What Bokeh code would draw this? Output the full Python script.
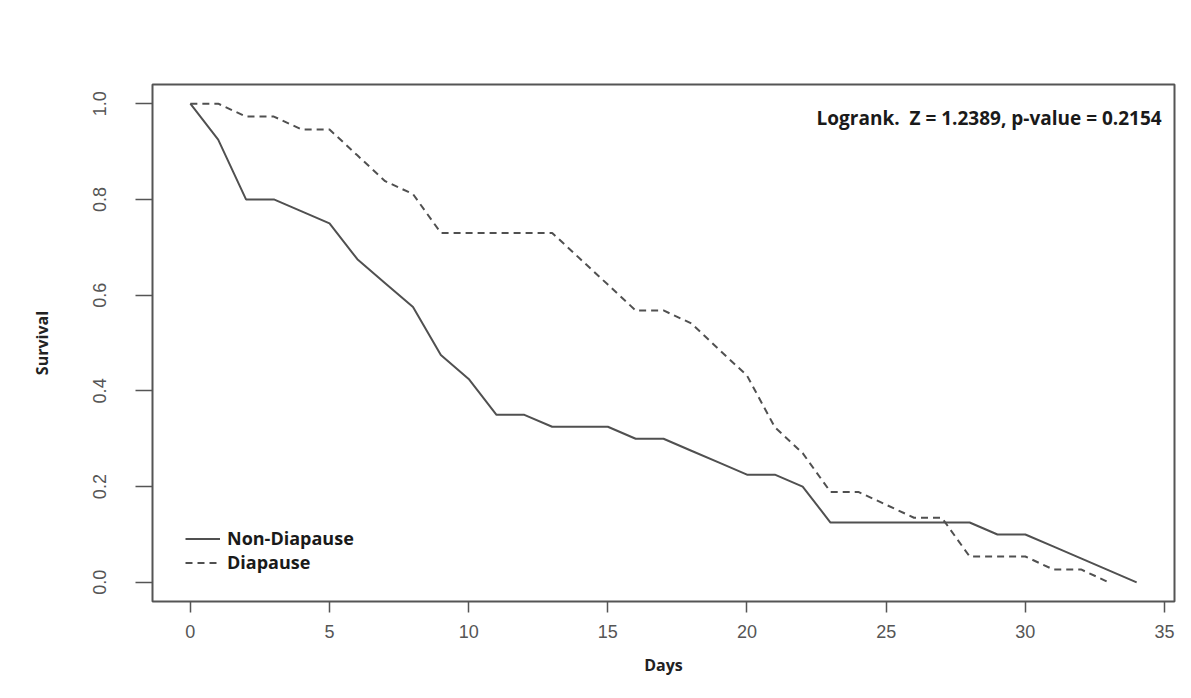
from bokeh.plotting import figure
from bokeh.models import Range1d, FixedTicker, PrintfTickFormatter, Legend, LegendItem, Label
from bokeh.embed import file_html
from bokeh.resources import INLINE

# ---- data ----
days_non = [0, 1, 2, 3, 4, 5, 6, 7, 8, 9, 10, 11, 12, 13, 14, 15, 16, 17, 18, 19,
            20, 21, 22, 23, 24, 25, 26, 27, 28, 29, 30, 31, 32, 33, 34]
surv_non = [1.000, 0.925, 0.800, 0.800, 0.775, 0.750, 0.675, 0.625, 0.575, 0.475,
            0.425, 0.350, 0.350, 0.325, 0.325, 0.325, 0.300, 0.300, 0.275, 0.250,
            0.225, 0.225, 0.200, 0.125, 0.125, 0.125, 0.125, 0.125, 0.125, 0.100,
            0.100, 0.075, 0.050, 0.025, 0.000]

days_dia = [0, 1, 2, 3, 4, 5, 6, 7, 8, 9, 10, 11, 12, 13, 14, 15, 16, 17, 18, 19,
            20, 21, 22, 23, 24, 25, 26, 27, 28, 29, 30, 31, 32, 33]
surv_dia = [1.000, 1.000, 0.973, 0.973, 0.946, 0.946, 0.892, 0.838, 0.811, 0.730,
            0.730, 0.730, 0.730, 0.730, 0.676, 0.622, 0.568, 0.568, 0.541, 0.486,
            0.432, 0.324, 0.270, 0.189, 0.189, 0.162, 0.135, 0.135, 0.054, 0.054,
            0.054, 0.027, 0.027, 0.000]

series_labels = ["Non-Diapause", "Diapause"]
x_ticks = [0, 5, 10, 15, 20, 25, 30, 35]
y_ticks = [0.0, 0.2, 0.4, 0.6, 0.8, 1.0]
stat_text = "Logrank.\u00a0 Z = 1.2389, p-value = 0.2154"

# ---- figure ----
p = figure(width=1183, height=690, output_backend="svg", toolbar_location=None,
           x_range=Range1d(-1.36, 35.36), y_range=Range1d(-0.04, 1.04),
           min_border_left=152, min_border_right=9, min_border_top=84,
           min_border_bottom=89)
p.outline_line_color = "#555555"
p.outline_line_width = 2
p.xgrid.visible = False
p.ygrid.visible = False
p.background_fill_color = "white"
p.border_fill_color = "white"

line_col = "#505050"
r1 = p.line(days_non, surv_non, line_color=line_col, line_width=2)
r2 = p.line(days_dia, surv_dia, line_color=line_col, line_width=2, line_dash="7 5")

# x axis
xa = p.xaxis[0]
xa.ticker = FixedTicker(ticks=x_ticks)
xa.axis_line_color = None
xa.major_tick_in = 0
xa.major_tick_out = 11
xa.minor_tick_line_color = None
xa.major_tick_line_color = "#555555"
xa.major_tick_line_width = 1.5
xa.major_label_text_font = "Liberation Sans"
xa.major_label_text_font_size = "18px"
xa.major_label_text_color = "#555555"
xa.major_label_standoff = 12
xa.axis_label = "Days"
xa.axis_label_text_font = "Open Sans"
xa.axis_label_text_font_style = "bold"
xa.axis_label_text_font_size = "16px"
xa.axis_label_text_color = "#222222"
xa.axis_label_standoff = 13

# y axis
ya = p.yaxis[0]
ya.ticker = FixedTicker(ticks=y_ticks)
ya.formatter = PrintfTickFormatter(format="%.1f")
ya.axis_line_color = None
ya.major_tick_in = 0
ya.major_tick_out = 17
ya.minor_tick_line_color = None
ya.major_tick_line_color = "#555555"
ya.major_tick_line_width = 1.5
ya.major_label_orientation = "vertical"
ya.major_label_text_font = "Liberation Sans"
ya.major_label_text_font_size = "18px"
ya.major_label_text_color = "#555555"
ya.major_label_standoff = 29
ya.axis_label = "Survival"
ya.axis_label_text_font = "Open Sans"
ya.axis_label_text_font_style = "bold"
ya.axis_label_text_font_size = "16px"
ya.axis_label_text_color = "#222222"
ya.axis_label_standoff = 38

# statistic annotation
p.add_layout(Label(x=34.9, y=0.969, text=stat_text, text_align="right",
                   text_baseline="middle", text_font="Open Sans",
                   text_font_style="bold", text_font_size="19px",
                   text_color="#1a1a1a"))

# legend
legend = Legend(items=[LegendItem(label=series_labels[0], renderers=[r1]),
                       LegendItem(label=series_labels[1], renderers=[r2])],
                location=(33, 27), padding=0, margin=0, spacing=0,
                glyph_width=35, glyph_height=23, label_height=23,
                label_standoff=7, label_text_font="Open Sans",
                label_text_font_style="bold", label_text_font_size="18px",
                label_text_color="#1a1a1a", border_line_color=None,
                background_fill_alpha=0)
p.add_layout(legend)

open("out.html", "w").write(file_html(p, INLINE))
